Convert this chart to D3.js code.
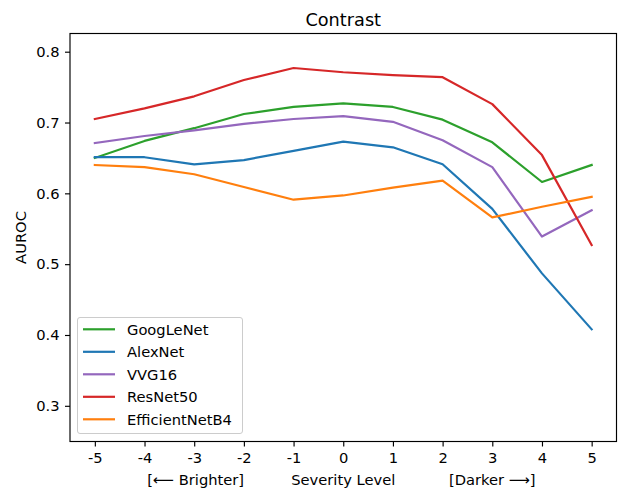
<!doctype html>
<html lang="en">
<head>
    <meta charset="utf-8"/>
    <title>Contrast</title>
    <script src="https://d3js.org/d3.v7.min.js"></script>
    <style>
        body { margin: 0; padding: 0; background: #fff; }
        svg { font-family: 'DejaVu Sans', sans-serif; }
    </style>
</head>
<body>
<script>
    // severity levels on the x axis
    const levels = [-5, -4, -3, -2, -1, 0, 1, 2, 3, 4, 5];

    // AUROC per model
    const googlenet = [0.650, 0.674, 0.692, 0.712, 0.722, 0.727, 0.722, 0.704, 0.672, 0.616, 0.640];
    const alexnet = [0.651, 0.651, 0.641, 0.647, 0.660, 0.673, 0.665, 0.641, 0.578, 0.487, 0.408];
    const vvg16 = [0.671, 0.681, 0.689, 0.698, 0.705, 0.709, 0.701, 0.675, 0.637, 0.539, 0.576];
    const resnet50 = [0.705, 0.720, 0.737, 0.760, 0.777, 0.771, 0.767, 0.764, 0.726, 0.654, 0.527];
    const efficientnet = [0.640, 0.637, 0.627, 0.609, 0.591, 0.597, 0.608, 0.618, 0.566, 0.581, 0.595];

    const seriesNames = ['GoogLeNet', 'AlexNet', 'VVG16', 'ResNet50', 'EfficientNetB4'];
    const seriesColors = ['#2ca02c', '#1f77b4', '#9467bd', '#d62728', '#ff7f0e'];
    const seriesValues = [googlenet, alexnet, vvg16, resnet50, efficientnet];

    const yTicks = [0.3, 0.4, 0.5, 0.6, 0.7, 0.8];

    const width = 618, height = 493;
    const margin = {top: 33.5, right: 1.5, bottom: 51.5, left: 70};
    const fs = '14.7px';

    const svg = d3.select('body').append('svg')
        .attr('width', width)
        .attr('height', height);

    // escalas
    const x = d3.scaleLinear()
        .domain([-5.5, 5.5])
        .range([margin.left, width - margin.right]);
    const y = d3.scaleLinear()
        .domain([0.2496, 0.8257])
        .range([height - margin.bottom, margin.top]);

    // lines
    const line = d3.line()
        .x((d, i) => x(levels[i]))
        .y(d => y(d));

    seriesValues.forEach(function (vals, k) {
        svg.append('path')
            .datum(vals)
            .attr('d', line)
            .attr('fill', 'none')
            .attr('stroke', seriesColors[k])
            .attr('stroke-width', 2.2)
            .attr('stroke-linejoin', 'round')
            .attr('stroke-linecap', 'square');
    });

    // frame
    svg.append('rect')
        .attr('x', margin.left)
        .attr('y', margin.top)
        .attr('width', width - margin.left - margin.right)
        .attr('height', height - margin.bottom - margin.top)
        .attr('fill', 'none')
        .attr('stroke', '#000')
        .attr('stroke-width', 1.15);

    // axes
    const xAxis = svg.append('g')
        .attr('transform', `translate(0,${height - margin.bottom})`)
        .call(d3.axisBottom(x).tickValues(levels).tickSize(5).tickPadding(6.5).tickFormat(d => String(d)));
    const yAxis = svg.append('g')
        .attr('transform', `translate(${margin.left},0)`)
        .call(d3.axisLeft(y).tickValues(yTicks).tickSize(5).tickPadding(5.5).tickFormat(d => d.toFixed(1)));

    [xAxis, yAxis].forEach(function (a) {
        a.select('.domain').remove();
        a.selectAll('line').attr('stroke', '#000').attr('stroke-width', 1.15);
        a.selectAll('text')
            .attr('fill', '#000')
            .style('font-family', "'DejaVu Sans', sans-serif")
            .style('font-size', fs);
    });

    // title and labels
    svg.append('text')
        .attr('x', (margin.left + width - margin.right) / 2)
        .attr('y', 25.5)
        .attr('text-anchor', 'middle')
        .style('font-size', '17.7px')
        .text('Contrast');

    svg.append('text')
        .attr('transform', `translate(26,${(margin.top + height - margin.bottom) / 2}) rotate(-90)`)
        .attr('text-anchor', 'middle')
        .style('font-size', fs)
        .text('AUROC');

    const xLabels = [
        {t: '[\u27F5 Brighter]', at: -2.97},
        {t: 'Severity Level', at: 0},
        {t: '[Darker \u27F6]', at: 3}
    ];
    svg.selectAll('.xlab')
        .data(xLabels)
        .enter().append('text')
        .attr('class', 'xlab')
        .attr('x', d => x(d.at))
        .attr('y', 485)
        .attr('text-anchor', 'middle')
        .style('font-size', fs)
        .text(d => d.t);

    // legend
    const legend = svg.append('g').attr('transform', 'translate(77.5,317.5)');
    legend.append('rect')
        .attr('width', 165)
        .attr('height', 116)
        .attr('rx', 2.5)
        .attr('fill', 'rgba(255,255,255,0.8)')
        .attr('stroke', '#cccccc')
        .attr('stroke-width', 1);

    const items = legend.selectAll('.item')
        .data(seriesNames)
        .enter().append('g')
        .attr('class', 'item')
        .attr('transform', (d, i) => `translate(0,${11.8 + i * 22.5})`);
    items.append('line')
        .attr('x1', 5.5).attr('x2', 37.5)
        .attr('stroke', (d, i) => seriesColors[i])
        .attr('stroke-width', 2.2);
    items.append('text')
        .attr('x', 49.5)
        .attr('dy', '0.36em')
        .style('font-size', fs)
        .text(d => d);
</script>
</body>
</html>
